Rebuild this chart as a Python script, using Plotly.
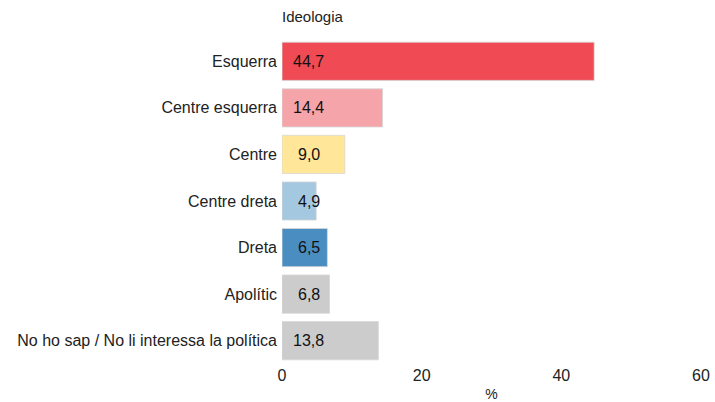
import plotly.graph_objects as go

categories = ["Esquerra", "Centre esquerra", "Centre", "Centre dreta", "Dreta",
              "Apolític", "No ho sap / No li interessa la política"]
values = [44.7, 14.4, 9.0, 4.9, 6.5, 6.8, 13.8]
colors = ["#F04A55", "#F5A4A9", "#FFE699", "#A5C8E1", "#4A8DC1", "#CCCCCC", "#CCCCCC"]
x_ticks = [0, 20, 40, 60]

labels = [f"{v:.1f}".replace(".", ",") for v in values]

FONT = "Liberation Sans, Arial"
fig = go.Figure()
fig.add_trace(go.Bar(
    x=values, y=categories, orientation="h",
    marker=dict(color=colors, line=dict(color="rgba(215,215,215,0.8)", width=1)),
    width=0.82, hoverinfo="skip",
))
for c, t in zip(categories, labels):
    fig.add_annotation(x=3.8, y=c, text=t, showarrow=False, xanchor="center",
                       font=dict(family=FONT, size=16, color="#111111"))

fig.add_annotation(text="Ideologia", xref="paper", yref="paper", x=0, y=1 + (38 - 17) / 326,
                   xanchor="left", yanchor="middle", showarrow=False, xshift=-2,
                   font=dict(family=FONT, size=15, color="#222222"))

fig.update_layout(
    width=715, height=402,
    margin=dict(l=282, r=14, t=38, b=38, autoexpand=False),
    plot_bgcolor="white", paper_bgcolor="white",
    font=dict(family=FONT, size=16, color="#222222"),
    showlegend=False,
)
fig.update_xaxes(range=[0, 60], tickvals=x_ticks, showgrid=False, zeroline=False,
                 showline=False, ticks="", automargin=False,
                 title=dict(text="%", font=dict(size=14), standoff=9),
                 tickfont=dict(size=16))
fig.update_yaxes(categoryorder="array", categoryarray=categories, autorange="reversed",
                 showgrid=False, zeroline=False, showline=False, ticks="", automargin=False,
                 ticklabelstandoff=4, tickfont=dict(size=16))

fig.write_html("out.html", config={"displayModeBar": False},
               post_script="document.body.style.margin='0';")
